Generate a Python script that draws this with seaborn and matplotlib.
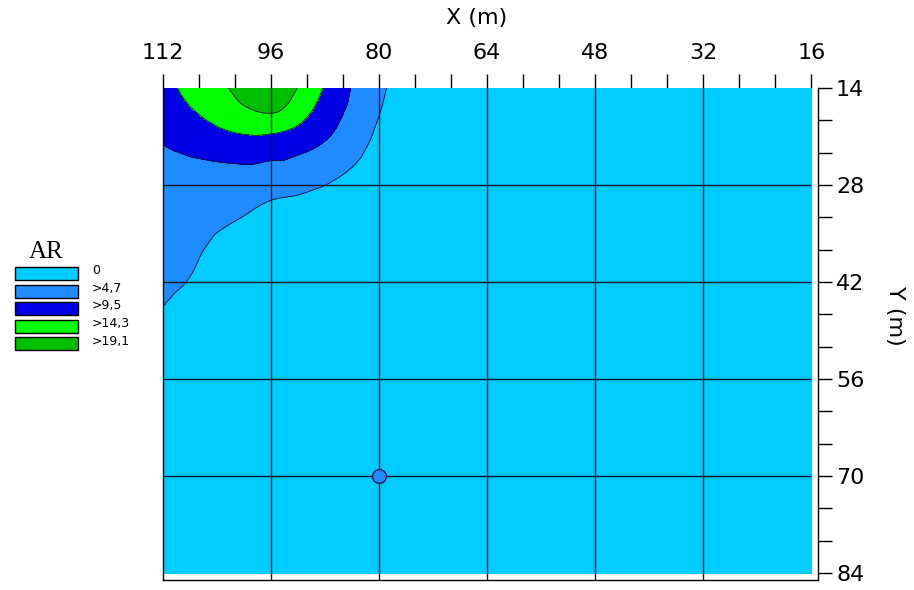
import numpy as np
import matplotlib
matplotlib.use("Agg")
import matplotlib.pyplot as plt
import matplotlib.tri as mtri
from matplotlib.colors import ListedColormap, BoundaryNorm
from matplotlib.patches import Rectangle
from matplotlib.ticker import MultipleLocator
import seaborn as sns

# Survey grid nodes (m)
x_nodes = [112, 108, 104, 100, 96, 92, 88, 84, 80, 76, 64, 16]
y_nodes = [14, 17, 20, 23, 26, 30, 34, 38, 42, 46, 50, 84]

# AR values, one list per grid row (ordered as x_nodes)
ar_y14 = [12.6, 15.6, 17.8, 20.8, 22.0, 19.0, 13.9, 9.3, 5.8, 1.8, 0.2, 0.0]
ar_y17 = [11.6, 14.1, 16.0, 18.7, 20.0, 17.0, 12.3, 8.6, 5.0, 1.5, 0.1, 0.0]
ar_y20 = [10.4, 12.3, 13.9, 15.0, 15.0, 13.6, 10.6, 7.6, 4.1, 1.1, 0.0, 0.0]
ar_y23 = [9.2, 10.0, 11.0, 12.1, 12.0, 10.3, 8.4, 6.2, 3.0, 0.8, 0.0, 0.0]
ar_y26 = [8.3, 8.6, 8.5, 8.4, 7.0, 6.9, 5.9, 4.4, 2.0, 0.5, 0.0, 0.0]
ar_y30 = [7.6, 7.6, 6.2, 5.7, 4.8, 4.4, 3.7, 2.6, 1.1, 0.3, 0.0, 0.0]
ar_y34 = [7.0, 6.6, 5.0, 4.2, 3.0, 2.6, 2.0, 1.4, 0.6, 0.2, 0.0, 0.0]
ar_y38 = [6.3, 5.6, 3.4, 3.2, 2.2, 1.8, 1.3, 0.9, 0.3, 0.1, 0.0, 0.0]
ar_y42 = [5.6, 4.5, 2.8, 2.5, 1.6, 1.2, 0.8, 0.5, 0.2, 0.0, 0.0, 0.0]
ar_y46 = [4.6, 3.4, 2.1, 1.8, 1.1, 0.8, 0.5, 0.3, 0.1, 0.0, 0.0, 0.0]
ar_y50 = [3.8, 2.5, 1.7, 1.2, 0.7, 0.5, 0.3, 0.2, 0.1, 0.0, 0.0, 0.0]
ar_y84 = [0.0] * 12

# Isolated sample above the first class
sample_x = [80]
sample_y = [70]
sample_ar = [5.2]

# Classes
levels = [0, 4.7, 9.5, 14.3, 19.1, 30]
class_labels = ["0", ">4,7", ">9,5", ">14,3", ">19,1"]
class_colors = ["#00CCFF", "#1E8CFF", "#0000E6", "#00FF00", "#00BF00"]

x_ticks = [112, 96, 80, 64, 48, 32, 16]
y_ticks = [14, 28, 42, 56, 70, 84]

sns.set_style("white")
plt.rcParams["font.family"] = ["DejaVu Sans"]
plt.rcParams["text.color"] = "black"
plt.rcParams["axes.labelcolor"] = "black"

W, H = 914, 590
fig = plt.figure(figsize=(W / 100, H / 100), dpi=100)
ax_l, ax_r, ax_t, ax_b = 163, 818, 88, 580
ax = fig.add_axes([ax_l / W, 1 - ax_b / H, (ax_r - ax_l) / W, (ax_b - ax_t) / H])

Z = np.array([ar_y14, ar_y17, ar_y20, ar_y23, ar_y26, ar_y30,
              ar_y34, ar_y38, ar_y42, ar_y46, ar_y50, ar_y84])
cmap = ListedColormap(class_colors)
norm = BoundaryNorm(levels, cmap.N)

# Smooth surface through the grid nodes
XX, YY = np.meshgrid(x_nodes, y_nodes)
tri = mtri.Triangulation(XX.ravel().astype(float), YY.ravel().astype(float))
interp = mtri.CubicTriInterpolator(tri, Z.ravel(), kind="geom")
tri_f, z_f = mtri.UniformTriRefiner(tri).refine_field(
    Z.ravel(), triinterpolator=interp, subdiv=3)
z_f = np.clip(z_f, 0, None)

ax.tricontourf(tri_f, z_f, levels=levels, cmap=cmap, norm=norm)
ax.tricontour(tri_f, z_f, levels=levels[1:-1], colors="#101030",
              linewidths=0.6)

ax.set_xlim(112, 15)
ax.set_ylim(85, 14)

# Grid lines at the major positions
y_lo, y_hi = ax.get_ylim()
for xv in x_ticks[1:-1]:
    ax.plot([xv, xv], [14, y_lo], color="#15152a", lw=1.0, zorder=3)
ax.hlines(y_ticks[1:-1], x_nodes[0], x_nodes[-1], colors="#15152a",
          lw=1.0, zorder=3)

sns.scatterplot(x=sample_x, y=sample_y, ax=ax, s=100,
                color=[cmap(norm(v)) for v in sample_ar],
                edgecolor="#1a1a50", linewidth=1.0, zorder=4, legend=False)

# Axes: X on top, Y on the right
ax.xaxis.tick_top()
ax.yaxis.tick_right()
ax.set_xticks(x_ticks)
ax.set_yticks(y_ticks)
ax.xaxis.set_minor_locator(MultipleLocator(16 / 3))
ax.yaxis.set_minor_locator(MultipleLocator(14 / 3))
ax.tick_params(axis="both", which="both", direction="out", length=10,
               width=1.0, color="black", labelsize=16, labelcolor="black")
ax.tick_params(axis="x", which="major", pad=8)
ax.tick_params(axis="y", which="major", pad=3)

ax.spines["top"].set_visible(False)
for side in ("left", "right", "bottom"):
    ax.spines[side].set_color("black")
    ax.spines[side].set_linewidth(1.0)

ax.set_xlabel("X (m)", fontsize=16, va="center")
ax.xaxis.set_label_position("top")
ax.xaxis.set_label_coords(0.479, 1.131)
ax.yaxis.set_label_position("right")
ax.set_ylabel("Y (m)", fontsize=16, rotation=270, va="center", ha="center")
ax.yaxis.set_label_coords(1.1176, 0.5366)

# Class key on the left
fig.text(46 / W, 1 - 252 / H, "AR", family=["Liberation Serif"], fontsize=18,
         ha="center", va="center")
box_top0, box_step, box_h = 267, 17.5, 13
for i, (lab, col) in enumerate(zip(class_labels, class_colors)):
    top = box_top0 + i * box_step
    fig.add_artist(Rectangle((15 / W, 1 - (top + box_h) / H), 63 / W, box_h / H,
                             transform=fig.transFigure, facecolor=col,
                             edgecolor="black", linewidth=1.0))
    fig.text(92 / W, 1 - (top + box_h / 2 - 2.5) / H, lab, fontsize=9,
             ha="left", va="center")

fig.savefig("out.png", dpi=100, facecolor="white")
